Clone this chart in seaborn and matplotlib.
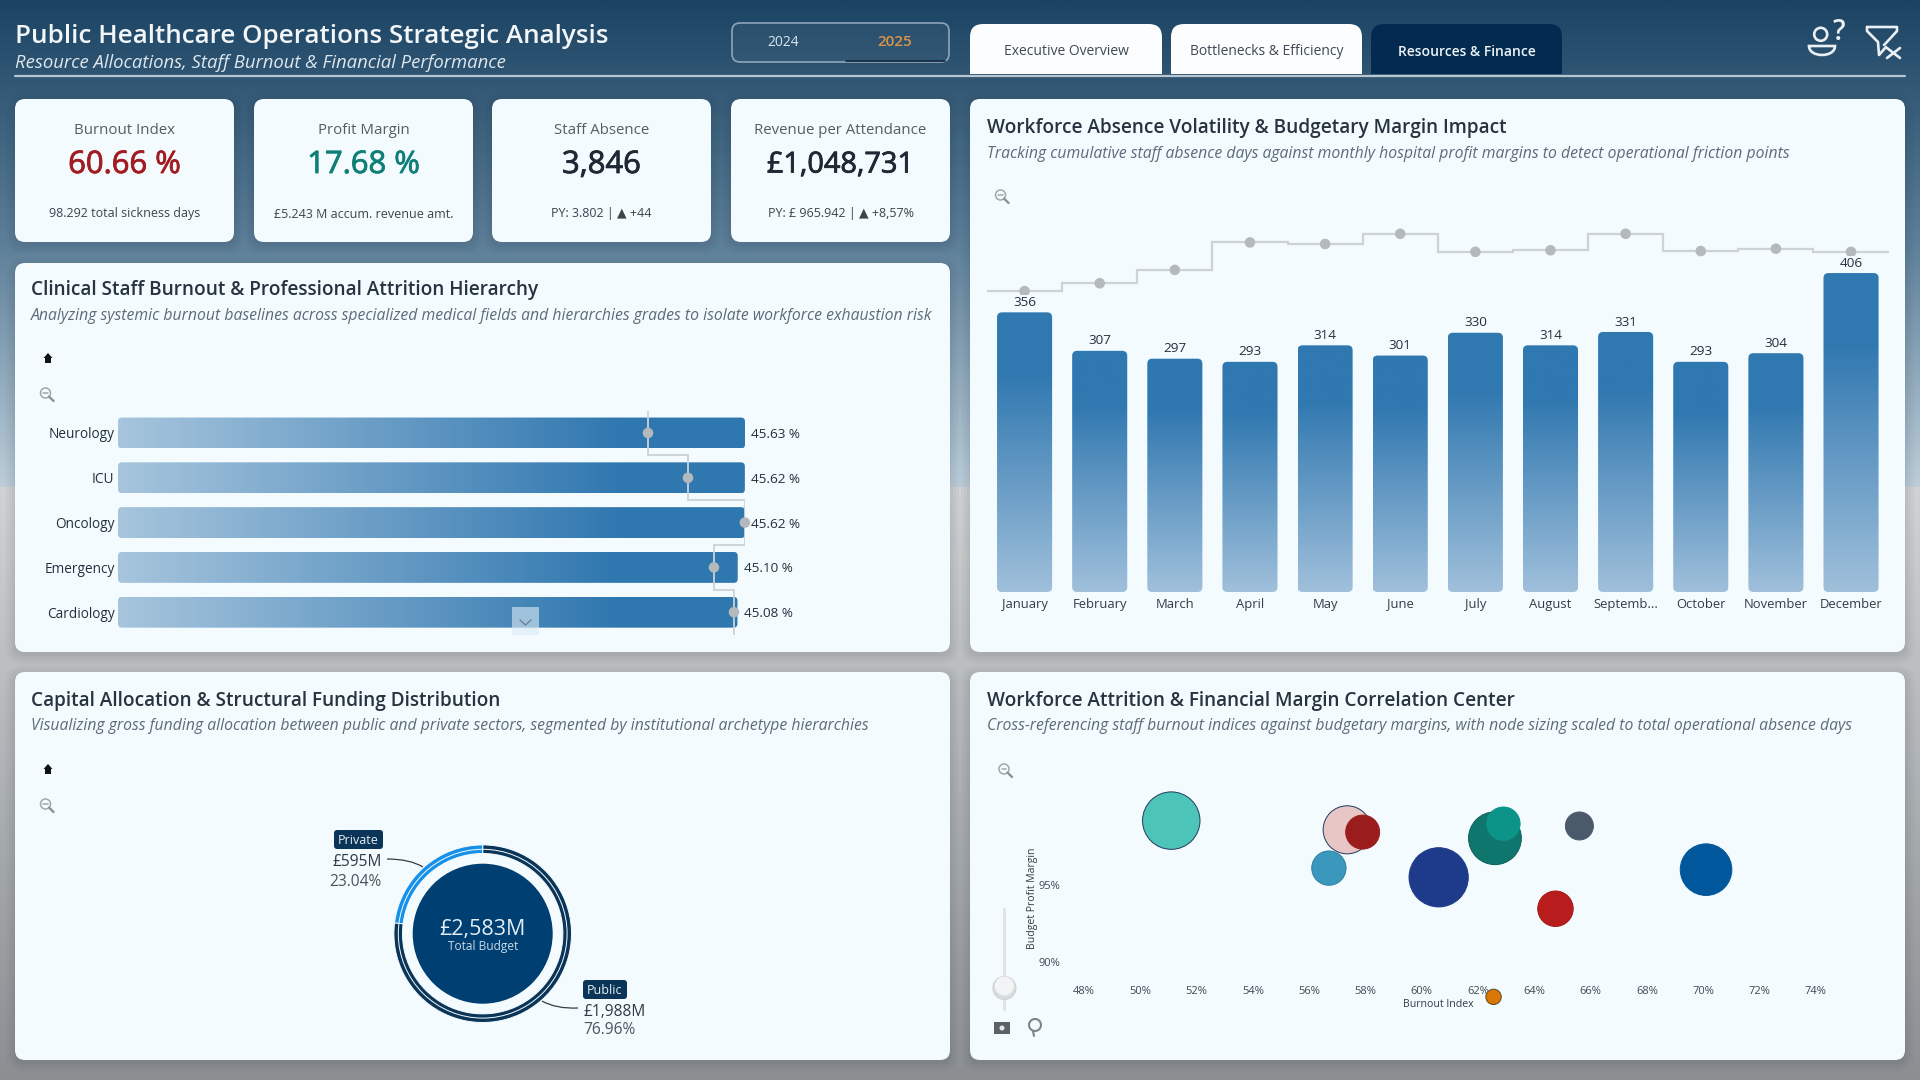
import numpy as np
import pandas as pd
import matplotlib
matplotlib.use("Agg")
import matplotlib.pyplot as plt
import matplotlib.patheffects as pe
import seaborn as sns
from matplotlib.colors import LinearSegmentedColormap
from matplotlib.patches import FancyBboxPatch, Rectangle, Circle, Polygon, PathPatch
from matplotlib.path import Path

W, H = 1920, 1080
PANEL = "#f3fbff"
INK = "#22303c"
MUTED = "#5d6b78"
STEP_GREY = "#cdd2d6"
DOT_GREY = "#b4b9be"
NAVY = "#0a3558"

# KPI cards
kpi_titles = ["Burnout Index", "Profit Margin", "Staff Absence", "Revenue per Attendance"]
kpi_values = ["60.66 %", "17.68 %", "3,846", "£1,048,731"]
kpi_notes = ["98.292 total sickness days", "£5.243 M accum. revenue amt.",
             "PY: 3.802 | ▲ +44", "PY: £ 965.942 | ▲ +8,57%"]
kpi_colors = ["#a11d22", "#0f7f77", "#1f2933", "#1f2933"]
kpi_value_sizes = [22.3, 22.3, 22.3, 20.8]

# Burnout by specialty
specialties = ["Neurology", "ICU", "Oncology", "Emergency", "Cardiology"]
burnout_pct = [45.63, 45.62, 45.62, 45.10, 45.08]
attrition_trend = [38.57, 41.48, 45.62, 43.37, 44.83]

# Monthly absence and margin trend
months = ["January", "February", "March", "April", "May", "June", "July", "August",
          "Septemb...", "October", "November", "December"]
absence_days_by_month = [356, 307, 297, 293, 314, 301, 330, 314, 331, 293, 304, 406]
margin_trend = [383, 393, 410, 445, 443, 456, 433, 435, 456, 434, 437, 433]

# Funding split
funding_sectors = ["Public", "Private"]
funding_millions = [1988, 595]
funding_share = ["76.96%", "23.04%"]

# Burnout against margin, one bubble per institution
institutions = list("ABCDEFGHIJK")
burnout_index = [51.1, 57.35, 57.9, 56.7, 60.6, 62.6, 62.9, 65.6, 64.75, 70.1, 62.55]
profit_margin = [99.2, 98.6, 98.45, 96.1, 95.5, 98.05, 99.0, 98.85, 93.45, 96.0, 87.7]
absence_days = [16000, 11200, 5600, 5700, 17000, 13500, 5400, 3800, 6100, 12900, 1150]
bubble_colors = ["#4cc4b8", "#e8c6c6", "#9b1c1c", "#3a98bc", "#1e3a8a", "#0f766e",
                 "#0d9488", "#4a5a6b", "#b91c1c", "#01579b", "#d97706"]
bubble_edges = ["#1f3a5f", "#1f3a5f", "#9b1c1c", "#2b7f9f", "#1e3a8a", "#0d5f59",
                "#0d9488", "#4a5a6b", "#a31a1a", "#01579b", "#5c4a20"]

sns.set_theme(style="white")
plt.rcParams["font.family"] = ["Open Sans", "DejaVu Sans"]
plt.rcParams["axes.facecolor"] = "none"

fig = plt.figure(figsize=(W / 100, H / 100), dpi=100)


def pix_axes(x0, y0, x1, y1, z=2):
    ax = fig.add_axes([x0 / W, 1 - y1 / H, (x1 - x0) / W, (y1 - y0) / H], zorder=z)
    ax.patch.set_alpha(0)
    return ax


canvas = pix_axes(0, 0, W, H, z=0)
canvas.set_xlim(0, W)
canvas.set_ylim(H, 0)
canvas.axis("off")

# Two-part page backdrop
upper = LinearSegmentedColormap.from_list("upper", ["#1b4363", "#5d7f99", "#bccdd9"])
lower = LinearSegmentedColormap.from_list("lower", ["#d0d2d3", "#aeb1b3", "#8c8f92"])
canvas.imshow(upper(np.linspace(0, 1, 256))[:, None, :], extent=[0, W, 487, 0],
              aspect="auto", zorder=0, interpolation="bilinear")
canvas.imshow(lower(np.linspace(0, 1, 256))[:, None, :], extent=[0, W, H, 487],
              aspect="auto", zorder=0, interpolation="bilinear")
canvas.set_xlim(0, W)
canvas.set_ylim(H, 0)


def rounded(x0, y0, x1, y1, r=10, **kw):
    p = FancyBboxPatch((x0, y0), x1 - x0, y1 - y0, boxstyle=f"round,pad=0,rounding_size={r}", **kw)
    canvas.add_patch(p)
    return p


def card(x0, y0, x1, y1):
    # Layered outlines give the cards a soft drop shadow
    for spread in (9, 6, 3, 1):
        rounded(x0 - spread, y0 - spread + 3, x1 + spread, y1 + spread + 3, r=10 + spread,
                fc="#1d2b38", ec="none", alpha=0.03, zorder=1)
    rounded(x0, y0, x1, y1, fc=PANEL, ec="none", zorder=2)


def label(x, y, s, size, color=INK, ha="left", **kw):
    # Open Sans sits high in its line box, so centred strings are nudged down
    return canvas.text(x, y + 2, s, fontsize=size, color=color, ha=ha, va="center", zorder=5, **kw)


def zoom_icon(x, y):
    canvas.add_patch(Circle((x, y), 5, fc="none", ec="#a0a8af", lw=1.1, zorder=5))
    canvas.plot([x - 2.2, x + 2.2], [y, y], color="#a0a8af", lw=1.1, zorder=5)
    canvas.plot([x + 3.6, x + 8], [y + 3.6, y + 8], color="#8a9299", lw=1.7, zorder=5)


def home_icon(x, y):
    canvas.add_patch(Polygon([(x - 4.5, y), (x, y - 5), (x + 4.5, y), (x + 3, y), (x + 3, y + 5),
                              (x - 3, y + 5), (x - 3, y)], fc="#111111", ec="none", zorder=5))


# Header
label(15, 34.5, "Public Healthcare Operations Strategic Analysis", 18.7, "#f2f6f9", weight=600)
label(15, 61, "Resource Allocations, Staff Burnout & Financial Performance", 13.3, "#dfe7ed", style="italic")
canvas.plot([15, 1905], [76, 76], color="#b9c5cf", lw=1.6, zorder=3)

rounded(732, 23, 949, 62, r=8, fc="#ffffff0a", ec="#8ea5b8", lw=1.2, zorder=3)
canvas.plot([846, 945], [61, 61], color="#10283d", lw=1.2, zorder=4)
label(783, 40, "2024", 10, "#dbe3ea", ha="center")
label(895, 39.5, "2025", 11, "#d8954a", ha="center", weight=600)

tabs = [("Executive Overview", 970, 1162, "#fbfdfe", "#3f4a54", 400),
        ("Bottlenecks & Efficiency", 1171, 1362, "#fbfdfe", "#3f4a54", 400),
        ("Resources & Finance", 1371, 1562, "#032b4f", "#eef4f8", 600)]
for text, x0, x1, face, ink, weight in tabs:
    tab = rounded(x0, 24, x1, 90, r=13, fc=face, ec="none", zorder=3)
    tab.set_clip_path(Rectangle((x0 - 1, 20), x1 - x0 + 2, 54, transform=canvas.transData))
    label((x0 + x1) / 2, 49.5, text, 10, ink, ha="center", weight=weight)

# Help and clear-filter glyphs
GLYPH = "#eaf0f4"
canvas.add_patch(Circle((1820.7, 34.3), 6.5, fc="none", ec=GLYPH, lw=1.9, zorder=5))
bowl = Path([(1809, 46), (1835, 46), (1835, 58), (1809, 58), (1809, 46), (1809, 46)],
            [Path.MOVETO, Path.LINETO, Path.CURVE4, Path.CURVE4, Path.CURVE4, Path.CLOSEPOLY])
canvas.add_patch(PathPatch(bowl, fc="none", ec=GLYPH, lw=1.9, zorder=5))
label(1839, 30, "?", 20, GLYPH, ha="center", weight=600)
canvas.plot([1867, 1897, 1897, 1886, 1884], [27, 27, 31, 43, 45], color=GLYPH, lw=1.9, zorder=5)
canvas.plot([1867, 1867, 1878, 1879, 1886], [27, 31, 42, 55, 47], color=GLYPH, lw=1.9, zorder=5)
canvas.plot([1887, 1900], [48, 58], color=GLYPH, lw=1.9, zorder=5)
canvas.plot([1900, 1887], [48, 58], color=GLYPH, lw=1.9, zorder=5)

# KPI row
kpi_boxes = [(15, 234), (254, 473), (492, 711), (731, 950)]
for (x0, x1), title, value, note, tone, size in zip(kpi_boxes, kpi_titles, kpi_values, kpi_notes,
                                                    kpi_colors, kpi_value_sizes):
    card(x0, 99, x1, 242)
    cx = (x0 + x1) / 2
    label(cx, 128, title, 10.8, "#565d64", ha="center")
    label(cx, 163, value, size, tone, ha="center",
          path_effects=[pe.withStroke(linewidth=0.6, foreground=tone)])
    label(cx, 212, note, 9, "#3c444c", ha="center")

# Chart cards with headings
card(15, 263, 950, 652)
card(15, 672, 950, 1060)
card(970, 99, 1905, 652)
card(970, 672, 1905, 1060)
headings = [
    (31, 288.5, 313.5, "Clinical Staff Burnout & Professional Attrition Hierarchy",
     "Analyzing systemic burnout baselines across specialized medical fields and hierarchies grades to isolate workforce exhaustion risk"),
    (987, 126, 151.5, "Workforce Absence Volatility & Budgetary Margin Impact",
     "Tracking cumulative staff absence days against monthly hospital profit margins to detect operational friction points"),
    (31, 699, 724.5, "Capital Allocation & Structural Funding Distribution",
     "Visualizing gross funding allocation between public and private sectors, segmented by institutional archetype hierarchies"),
    (987, 699, 724.5, "Workforce Attrition & Financial Margin Correlation Center",
     "Cross-referencing staff burnout indices against budgetary margins, with node sizing scaled to total operational absence days"),
]
for x, y_title, y_sub, title, sub in headings:
    label(x, y_title, title, 13.65, "#27333e", weight=600)
    label(x, y_sub, sub, 11.35, MUTED, style="italic")

home_icon(48, 358)
zoom_icon(45.5, 393)
home_icon(48, 769)
zoom_icon(45.5, 804)
zoom_icon(1000.5, 195)
zoom_icon(1004, 769)


def gradient_bar(ax, patch, cmap, direction, round_px, px_x, px_y):
    """Swap a bar for a rounded, gradient-filled copy of the same extent."""
    x, y, w, h = patch.get_x(), patch.get_y(), patch.get_width(), patch.get_height()
    shape = FancyBboxPatch((x, y), w, h, boxstyle=f"round,pad=0,rounding_size={round_px / px_x}",
                           mutation_aspect=px_x / px_y, fc="none", ec="none", transform=ax.transData)
    ax.add_patch(shape)
    ramp = np.linspace(0, 1, 256)
    colors = cmap(ramp)[None, :, :] if direction == "h" else cmap(ramp)[:, None, :]
    # Row zero of the ramp belongs at the bar's value end for columns
    extent = [x, x + w, y + h, y] if direction == "h" else [x, x + w, y, y + h]
    image = ax.imshow(colors, extent=extent, aspect="auto", zorder=1,
                      interpolation="bilinear", origin="upper")
    image.set_clip_path(shape)
    patch.set_alpha(0)


# Burnout by specialty, horizontal bars
ax_a = pix_axes(118, 411, 745, 635)
sns.barplot(x=burnout_pct, y=specialties, orient="h", width=0.69, color="#3078b0", ax=ax_a)
ramp_a = LinearSegmentedColormap.from_list("a", [(0, "#a7c5dd"), (0.8, "#3078b0"), (1, "#2f77af")])
for bar in list(ax_a.patches):
    gradient_bar(ax_a, bar, ramp_a, "h", 4, 627 / 45.63, 44.8)
ax_a.set_xlim(0, 45.63)
ax_a.set_ylim(4.509, -0.491)
ax_a.stairs(attrition_trend, [-0.491, 0.5, 1.5, 2.5, 3.5, 4.509], orientation="horizontal",
            baseline=None, color=STEP_GREY, lw=1.3, zorder=3)
sns.scatterplot(x=attrition_trend, y=list(range(5)), color=DOT_GREY, s=58, edgecolor="none",
                ax=ax_a, zorder=4, clip_on=False, legend=False)
tags_a = ax_a.bar_label(ax_a.containers[0], labels=[f"{v:.2f} %" for v in burnout_pct], padding=4.5,
                        fontsize=9.7, color=INK, zorder=5, clip_on=False)
for tag in tags_a:
    tag.set_va("center_baseline")
ax_a.set(xlabel=None, ylabel=None, xticks=[])
ax_a.tick_params(axis="y", length=0, pad=2.5, labelsize=9.8, labelcolor=INK)
sns.despine(ax=ax_a, left=True, bottom=True)

overlay = pix_axes(0, 0, W, H, z=3)
overlay.set_xlim(0, W)
overlay.set_ylim(H, 0)
overlay.axis("off")
overlay.add_patch(Rectangle((512, 607), 27, 28, fc="#dcebf5", ec="none", alpha=0.6))
overlay.plot([520, 525.5, 531], [620, 625, 620], color="#6f8090", lw=1)

# Monthly absence columns with the margin step line
ax_c = pix_axes(987, 200, 1888.6, 592)
sns.barplot(x=months, y=absence_days_by_month, width=0.733, color="#3078b0", ax=ax_c)
ramp_c = LinearSegmentedColormap.from_list("c", [(0, "#2f78b1"), (0.22, "#3078b0"), (1, "#a0c0db")])
px_per_unit = 392 / 499
for bar in list(ax_c.patches):
    gradient_bar(ax_c, bar, ramp_c, "v", 5, 75.13, px_per_unit)
ax_c.set_xlim(-0.5, 11.5)
ax_c.set_ylim(0, 499)
ax_c.stairs(margin_trend, np.arange(13) - 0.5, baseline=None, color=STEP_GREY, lw=1.6, zorder=2)
sns.scatterplot(x=list(range(12)), y=margin_trend, color=DOT_GREY, s=58, edgecolor="none",
                ax=ax_c, zorder=2.5, legend=False)
ax_c.bar_label(ax_c.containers[0], labels=[str(v) for v in absence_days_by_month], padding=2.5,
               fontsize=9.7, color=INK, zorder=3,
               bbox=dict(facecolor=PANEL, edgecolor="none", pad=0.8))
ax_c.set(xlabel=None, ylabel=None, yticks=[])
ax_c.tick_params(axis="x", length=0, pad=4, labelsize=9.4, labelcolor="#333d46")
sns.despine(ax=ax_c, left=True, bottom=True)

# Funding donut
ax_b = pix_axes(382.7, 833.7, 582.7, 1033.7)
ax_b.pie(funding_millions, colors=[NAVY, "#1690e8"], startangle=90, counterclock=False, radius=88.8,
         frame=True, wedgeprops=dict(width=8.6, edgecolor=PANEL, linewidth=0.7))
ax_b.set_xlim(-100, 100)
ax_b.set_ylim(-100, 100)
ax_b.set_aspect("equal")
ax_b.axis("off")
ax_b.add_patch(Circle((0, 0), 84.4, fc="none", ec=PANEL, lw=0.7, zorder=4))
ax_b.add_patch(Circle((0, 0), 70, fc="#003f72", ec="none", zorder=4))
ax_b.text(0, 4.5, f"£{sum(funding_millions):,}M", color="#e3edf4", fontsize=15.5, ha="center", va="center", zorder=5)
ax_b.text(0, -12.5, "Total Budget", color="#c9dae6", fontsize=8.6, ha="center", va="center", zorder=5)

rounded(334, 830, 383, 849, r=3, fc=NAVY, ec="none", zorder=4)
label(358.5, 838.5, funding_sectors[1], 9, "#e7eef3", ha="center")
label(382, 860, f"£{funding_millions[1]}M", 11.2, "#2f3a44", ha="right")
label(382, 879.5, funding_share[1], 11.2, "#4a545d", ha="right")
canvas.add_patch(PathPatch(Path([(387, 859), (410, 859), (423, 867)], [Path.MOVETO, Path.CURVE3, Path.CURVE3]),
                           fc="none", ec="#333d46", lw=0.9, zorder=4))
rounded(583, 980, 627, 999, r=3, fc=NAVY, ec="none", zorder=4)
label(605, 988.5, funding_sectors[0], 9, "#e7eef3", ha="center")
label(583, 1009.5, f"£{funding_millions[0]:,}M", 11.2, "#2f3a44")
label(583, 1028.5, funding_share[0], 11.2, "#4a545d")
canvas.add_patch(PathPatch(Path([(542, 1001), (556, 1009), (578, 1008)], [Path.MOVETO, Path.CURVE3, Path.CURVE3]),
                           fc="none", ec="#333d46", lw=0.9, zorder=4))

# Burnout against margin bubbles
ax_d = pix_axes(1060, 780, 1880, 980)
frame_d = pd.DataFrame({"institution": institutions, "burnout": burnout_index,
                        "margin": profit_margin, "days": absence_days})
sns.scatterplot(data=frame_d, x="burnout", y="margin", hue="institution", palette=bubble_colors,
                size="days", sizes=(123, 1818), edgecolor="#1f3a5f", linewidth=0.7,
                alpha=1, legend=False, clip_on=False, ax=ax_d)
ax_d.collections[0].set_edgecolor(bubble_edges)
ax_d.set_xlim(47.147, 76.28)
ax_d.set_ylim(88.80, 101.85)
ax_d.set_xticks(np.arange(48, 76, 2))
ax_d.set_xticklabels([f"{v}%" for v in range(48, 76, 2)])
ax_d.set_yticks([90, 95])
ax_d.set_yticklabels(["90%", "95%"])
ax_d.tick_params(axis="both", length=0, labelsize=8, labelcolor="#3f4952", pad=0)
ax_d.tick_params(axis="x", pad=4)
ax_d.set(xlabel=None, ylabel=None)
sns.despine(ax=ax_d, left=True, bottom=True)
label(1438, 1002.5, "Burnout Index", 7.6, "#333d46", ha="center")
canvas.text(1033, 898, "Budget Profit Margin", fontsize=7.6, color="#333d46", rotation=90,
            ha="center", va="center", zorder=5)

# Zoom slider and scatter tools
canvas.plot([1004.4, 1004.4], [909, 1009], color="#dfe3e7", lw=2.2, zorder=4, solid_capstyle="round")
canvas.add_patch(Circle((1004.4, 988), 11.5, fc="#d9dcdf", ec="#cfd3d6", lw=0.8, zorder=5))
canvas.add_patch(Circle((1004.4, 986), 9.5, fc="#f2f4f5", ec="none", zorder=6))
canvas.add_patch(Rectangle((994, 1022), 16, 12, fc="#5a6268", ec="none", zorder=5))
canvas.add_patch(Circle((1002, 1028), 2.5, fc="#e3e7ea", ec="none", zorder=6))
canvas.add_patch(Circle((1035, 1025), 6, fc="none", ec="#7c858c", lw=1.5, zorder=5))
canvas.plot([1033, 1034], [1031, 1036], color="#7c858c", lw=1.5, zorder=5)

fig.savefig("out.png", dpi=100)
